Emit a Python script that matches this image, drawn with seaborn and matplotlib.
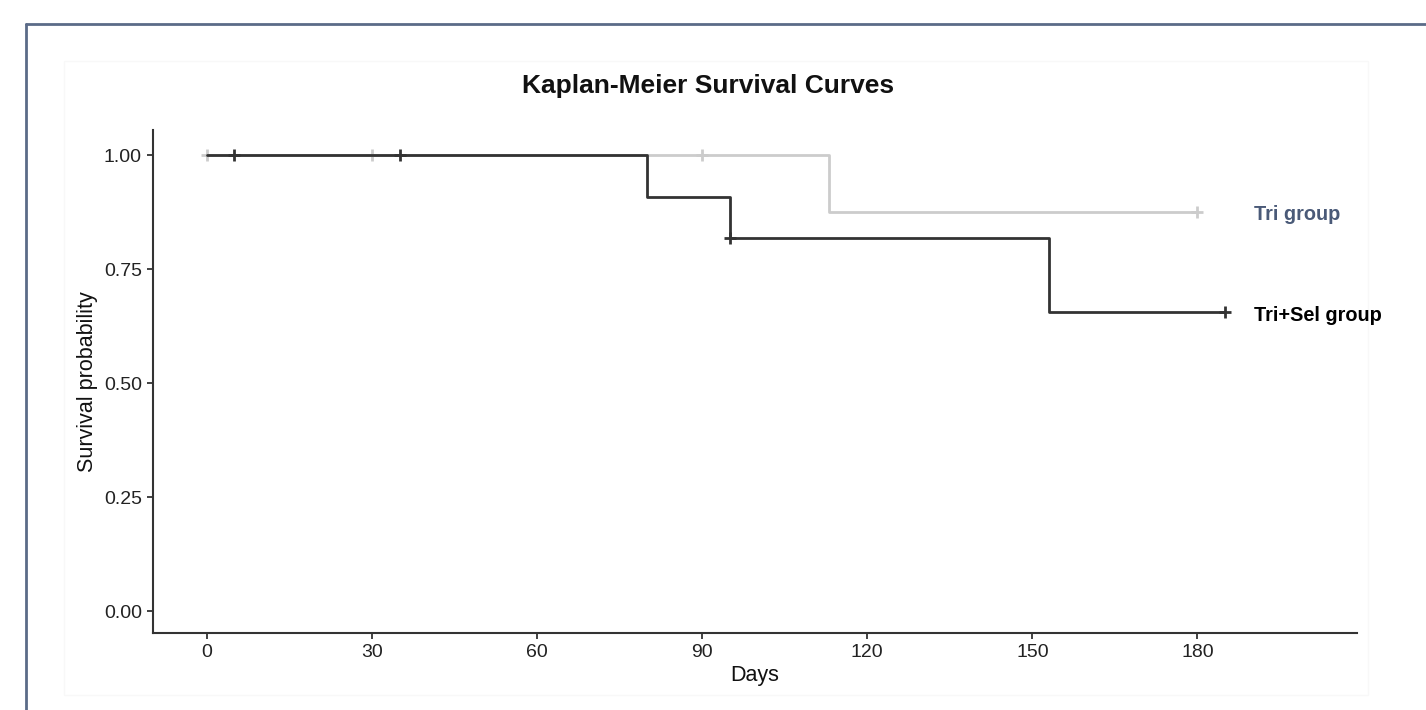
import matplotlib
matplotlib.use("Agg")
import matplotlib.pyplot as plt
import seaborn as sns
import pandas as pd
from matplotlib.lines import Line2D
from matplotlib.patches import Rectangle

# ---- data ----
groups = ["Tri group", "Tri+Sel group"]
tri_time = [0, 113, 180]
tri_surv = [1.0, 0.875, 0.875]
trisel_time = [0, 80, 95, 153, 185]
trisel_surv = [1.0, 0.909, 0.818, 0.655, 0.655]
tri_cens_time = [0, 30, 90, 180]
tri_cens_surv = [1.0, 1.0, 1.0, 0.875]
trisel_cens_time = [5, 35, 95, 185]
trisel_cens_surv = [1.0, 1.0, 0.818, 0.655]
x_ticks = [0, 30, 60, 90, 120, 150, 180]
y_ticks = [0.00, 0.25, 0.50, 0.75, 1.00]

sns.set_theme(style="ticks")
plt.rcParams['font.family'] = ['Liberation Sans', 'DejaVu Sans']

colors = {"Tri group": "#cccccc", "Tri+Sel group": "#333333"}
label_colors = {"Tri group": "#4a5a78", "Tri+Sel group": "#000000"}

curves = pd.concat([
    pd.DataFrame({"Days": tri_time, "Survival": tri_surv, "Group": groups[0]}),
    pd.DataFrame({"Days": trisel_time, "Survival": trisel_surv, "Group": groups[1]}),
])
cens = pd.concat([
    pd.DataFrame({"Days": tri_cens_time, "Survival": tri_cens_surv, "Group": groups[0]}),
    pd.DataFrame({"Days": trisel_cens_time, "Survival": trisel_cens_surv, "Group": groups[1]}),
])

W, H = 1426, 710
fig = plt.figure(figsize=(W / 100, H / 100), dpi=100)
fig.patch.set_facecolor("white")

# faint panel background
fig.add_artist(Rectangle((64 / W, 1 - 695 / H), (1368 - 64) / W, (695 - 61) / H,
                         transform=fig.transFigure, facecolor="white",
                         edgecolor="#f8f8f8", lw=1, zorder=0))
# outer frame lines (top and left)
fig.add_artist(Line2D([26 / W, 1.0], [1 - 24 / H, 1 - 24 / H], transform=fig.transFigure,
                      color="#5b6b88", lw=2))
fig.add_artist(Line2D([26 / W, 26 / W], [1 - 24 / H, 0.0], transform=fig.transFigure,
                      color="#5b6b88", lw=2))

ax = fig.add_axes([153 / W, 1 - 633 / H, (1357 - 153) / W, (633 - 130) / H])
ax.set_facecolor("none")

for g in groups:
    d = curves[curves.Group == g]
    sns.lineplot(data=d, x="Days", y="Survival", ax=ax, color=colors[g],
                 drawstyle="steps-post", lw=2.0, legend=False, estimator=None,
                 zorder=3 if g == groups[1] else 2)
    c = cens[cens.Group == g]
    sns.scatterplot(data=c, x="Days", y="Survival", ax=ax, color=colors[g],
                    marker="+", s=75, linewidth=2, legend=False,
                    zorder=4 if g == groups[1] else 2)

ax.set_xlim(-9.8, 209)
ax.set_ylim(-0.048, 1.055)
ax.set_xticks(x_ticks)
ax.set_yticks(y_ticks)
ax.set_yticklabels([f"{v:.2f}" for v in y_ticks])
ax.tick_params(axis="both", labelsize=14, colors="#333333", length=4, width=1.3,
               direction="out", pad=4)
for lbl in ax.get_xticklabels() + ax.get_yticklabels():
    lbl.set_color("#222222")
for s in ["top", "right"]:
    ax.spines[s].set_visible(False)
for s in ["left", "bottom"]:
    ax.spines[s].set_color("#333333")
    ax.spines[s].set_linewidth(1.5)

ax.set_xlabel("Days", fontsize=15.5, color="#111111", labelpad=3)
ax.set_ylabel("Survival probability", fontsize=15.5, color="#111111", labelpad=4)

ax.text(190.2, tri_surv[-1] - 0.006, "Tri group", color=label_colors["Tri group"],
        fontsize=14.3, fontweight="bold", va="center", ha="left")
ax.text(190.2, trisel_surv[-1] - 0.006, "Tri+Sel group", color=label_colors["Tri+Sel group"],
        fontsize=14.3, fontweight="bold", va="center", ha="left")

fig.text(708 / W, 1 - 86 / H, "Kaplan-Meier Survival Curves", ha="center", va="center",
         fontsize=19, fontweight="bold", color="#111111")

fig.savefig("out.png", dpi=100, facecolor="white")
